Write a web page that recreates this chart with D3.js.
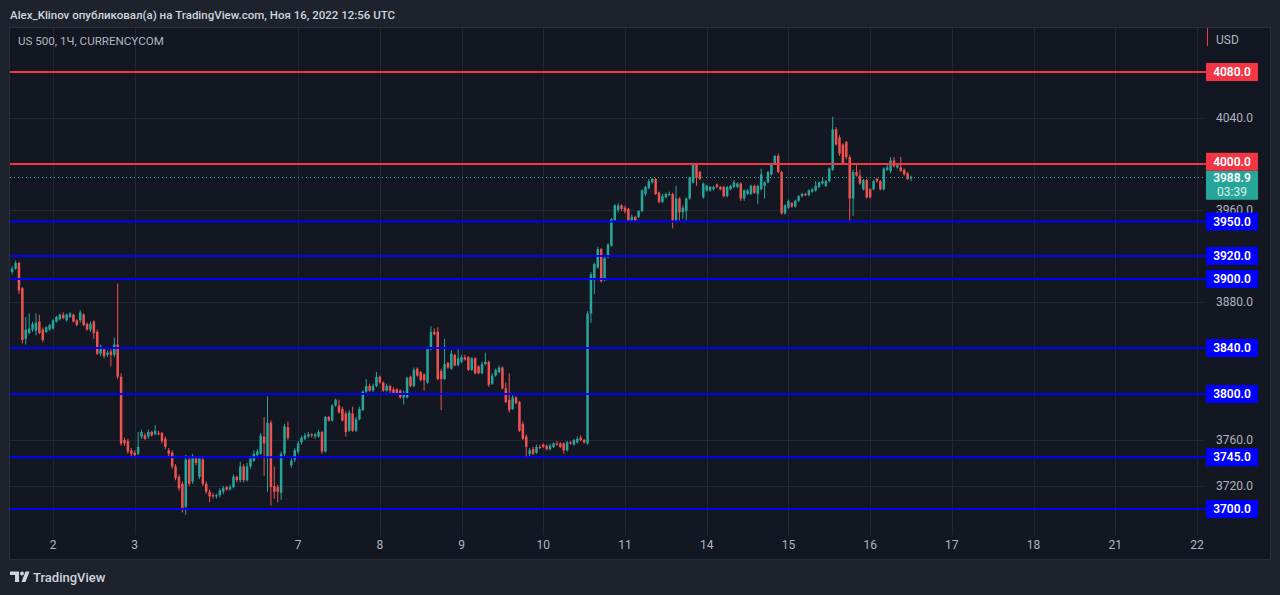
<!DOCTYPE html>
<html><head><meta charset="utf-8">
<script src="https://cdn.jsdelivr.net/npm/d3@7"></script>
<style>
html,body{margin:0;padding:0;background:#1e222d;}
svg{display:block;}
</style></head><body>
<svg id="c" width="1280" height="595"></svg>
<script>
// ---- data ----
const dayLabels = ["2","3","7","8","9","10","11","14","15","16","17","18","21","22"];
const dayStarts = [12,36,84,108,132,156,180,204,228,252,276,300,324,348]; // bar index of each day start
const priceTicks = [3720,3760,3800,3840,3880,3920,3960,4000,4040,4080];
const redLevels = [4080,4000];
const blueLevels = [3950,3920,3900,3840,3800,3745,3700];
const lastPrice = 3988.9;
const countdown = "03:39";
const headerText = "Alex_Klinov опубликовал(а) на TradingView.com, Ноя 16, 2022 12:56 UTC";
const titleText = "US 500, 1Ч, CURRENCYCOM";
const currency = "USD";
// hourly bars [open, high, low, close]
const bars = [
[3906,3911,3904,3909],[3909,3916,3908,3914],[3914,3915,3887,3890],[3892,3893,3844,3847],
[3848,3867,3843,3856],[3853,3870,3852,3857],[3856,3863,3854,3861],[3855,3870,3851,3862],
[3863,3869,3852,3853],[3856,3858,3845,3847],[3854,3859,3853,3858],[3856,3861,3855,3860],
[3857,3865,3856,3864],[3863,3868,3862,3867],[3865,3870,3864,3869],[3869,3871,3865,3866],
[3864,3870,3863,3869],[3867,3871,3866,3870],[3869,3870,3862,3863],[3864,3865,3859,3860],
[3864,3873,3862,3871],[3869,3870,3859,3860],[3861,3862,3855,3856],[3856,3863,3854,3861],
[3863,3864,3848,3853],[3854,3856,3834,3835],[3835,3843,3833,3841],[3839,3841,3831,3833],
[3834,3838,3832,3836],[3837,3839,3824,3834],[3834,3849,3832,3843],[3843,3896,3813,3815],
[3815,3818,3755,3757],[3760,3762,3755,3757],[3759,3761,3748,3750],[3751,3753,3746,3748],
[3749,3751,3746,3747],[3748,3767,3747,3754],[3763,3769,3761,3767],[3764,3766,3760,3761],
[3763,3769,3761,3767],[3767,3768,3763,3764],[3765,3773,3764,3768],[3766,3768,3764,3765],
[3766,3767,3757,3759],[3761,3763,3752,3754],[3751,3753,3746,3748],[3749,3751,3735,3737],
[3737,3739,3725,3727],[3728,3730,3716,3718],[3722,3724,3697,3699],[3702,3747,3695,3743],
[3743,3745,3720,3722],[3724,3748,3722,3745],[3744,3746,3738,3740],[3728,3746,3726,3744],
[3743,3745,3720,3722],[3722,3724,3713,3715],[3715,3717,3706,3711],[3712,3714,3709,3711],
[3711,3713,3709,3712],[3712,3718,3710,3716],[3715,3720,3713,3718],[3719,3720,3716,3717],
[3717,3721,3716,3719],[3719,3730,3718,3728],[3728,3729,3723,3725],[3725,3741,3723,3737],
[3737,3739,3723,3725],[3725,3740,3724,3737],[3737,3746,3735,3744],[3742,3751,3741,3748],
[3747,3752,3746,3750],[3748,3766,3747,3764],[3763,3780,3729,3757],[3745,3798,3715,3775],
[3775,3777,3703,3719],[3720,3737,3709,3715],[3719,3721,3706,3715],[3714,3750,3708,3748],
[3748,3774,3746,3772],[3771,3776,3760,3762],[3738,3744,3736,3742],[3743,3753,3741,3751],
[3750,3759,3748,3757],[3758,3764,3756,3762],[3761,3766,3760,3764],[3763,3767,3762,3765],
[3765,3766,3762,3764],[3763,3766,3761,3765],[3763,3769,3762,3767],
[3767,3768,3748,3750],[3750,3781,3749,3780],[3780,3781,3776,3777],[3777,3791,3776,3790],
[3790,3796,3789,3795],[3790,3795,3783,3784],[3787,3789,3776,3777],[3783,3785,3763,3767],
[3768,3786,3767,3784],[3783,3789,3767,3768],[3768,3780,3767,3778],[3778,3789,3777,3787],
[3786,3803,3785,3802],[3802,3813,3801,3807],[3807,3809,3802,3803],[3803,3809,3802,3807],
[3807,3819,3806,3815],[3815,3816,3809,3810],[3810,3811,3802,3803],[3803,3809,3802,3807],
[3807,3808,3801,3803],[3804,3806,3800,3801],[3804,3805,3799,3800],[3803,3804,3796,3797],
[3797,3803,3791,3801],[3797,3815,3796,3814],[3815,3816,3806,3807],[3807,3823,3806,3821],
[3822,3823,3815,3816],[3819,3820,3811,3812],[3817,3818,3803,3812],[3810,3841,3809,3839],
[3839,3859,3838,3854],[3854,3857,3851,3852],[3854,3858,3812,3813],[3820,3822,3786,3813],
[3813,3848,3812,3826],[3827,3828,3822,3823],[3822,3838,3821,3835],[3834,3835,3824,3825],
[3825,3839,3824,3831],[3828,3834,3827,3832],[3832,3834,3829,3830],[3832,3833,3820,3821],
[3821,3832,3820,3831],[3831,3832,3817,3818],[3824,3825,3817,3818],[3818,3828,3817,3826],
[3826,3836,3825,3828],[3828,3829,3806,3808],[3809,3818,3808,3816],[3816,3822,3815,3821],
[3819,3825,3818,3823],[3823,3824,3804,3805],[3805,3810,3792,3793],[3795,3818,3784,3786],
[3787,3799,3786,3797],[3797,3798,3791,3792],[3793,3794,3767,3768],[3774,3776,3760,3761],
[3763,3765,3745,3754],[3748,3753,3746,3751],[3752,3754,3747,3748],[3749,3756,3748,3754],
[3754,3756,3752,3753],[3756,3757,3753,3754],[3755,3756,3751,3752],[3752,3757,3751,3755],
[3754,3758,3753,3757],[3757,3759,3755,3756],[3757,3758,3753,3754],[3757,3758,3748,3751],
[3751,3759,3750,3758],[3758,3759,3756,3757],[3756,3761,3755,3760],[3758,3763,3757,3761],
[3762,3764,3759,3760],[3760,3761,3757,3758],
[3757,3872,3756,3870],[3870,3906,3862,3904],[3899,3914,3887,3913],[3910,3928,3909,3926],
[3926,3927,3897,3898],[3899,3921,3898,3918],[3919,3931,3918,3930],[3929,3953,3928,3952],
[3951,3965,3950,3964],[3960,3966,3958,3964],[3964,3965,3959,3961],[3962,3964,3957,3959],
[3961,3962,3950,3951],[3951,3956,3950,3954],[3954,3955,3950,3951],[3954,3960,3953,3959],
[3959,3978,3958,3977],[3974,3981,3972,3980],[3979,3987,3978,3985],[3984,3988,3983,3987],
[3987,3988,3973,3974],[3975,3976,3966,3967],[3967,3974,3966,3972],[3971,3975,3970,3974],
[3973,3976,3972,3974],[3974,3975,3944,3951],[3951,3981,3950,3970],[3970,3971,3950,3958],
[3958,3964,3952,3962],[3959,3971,3951,3970],[3970,3989,3969,3988],[3984,4001,3983,4000],
[4000,4001,3981,3988],[3993,3994,3986,3987],[3971,3984,3970,3983],
[3977,3982,3976,3981],[3977,3981,3976,3980],[3978,3981,3977,3980],[3982,3983,3979,3980],
[3980,3981,3977,3978],[3980,3981,3971,3972],[3972,3981,3971,3980],[3978,3982,3977,3981],
[3980,3986,3979,3984],[3980,3984,3979,3983],[3983,3984,3968,3970],[3970,3978,3968,3977],
[3974,3978,3973,3977],[3974,3982,3973,3981],[3981,3982,3974,3975],[3974,3982,3965,3981],
[3978,3996,3977,3991],[3981,3985,3970,3984],[3984,3994,3983,3993],[3991,4001,3990,4000],
[4000,4008,3999,4007],[4007,4009,3992,3993],[3993,3994,3956,3957],[3957,3965,3956,3964],
[3962,3969,3961,3968],[3966,3967,3962,3963],[3963,3969,3962,3968],[3968,3973,3967,3972],
[3972,3975,3971,3974],[3974,3975,3972,3973],[3973,3978,3972,3977],[3976,3979,3975,3978],
[3977,3985,3976,3981],[3980,3985,3979,3984],[3983,3988,3982,3985],[3981,3986,3980,3985],
[3985,3997,3984,3996],
[3995,4041,3994,4030],[4030,4032,4016,4017],[4023,4025,4007,4009],[4017,4018,4000,4001],
[4019,4020,4004,4006],[4006,4008,3951,3970],[3970,3995,3955,3993],[3993,3999,3989,3990],
[3990,3995,3982,3983],[3978,3987,3977,3986],[3986,3987,3970,3971],[3978,3979,3970,3971],
[3978,3986,3977,3985],[3987,3988,3984,3985],[3985,3986,3977,3978],[3978,3997,3977,3996],
[3995,3999,3994,3997],[3994,4006,3992,4003],[4003,4006,3997,3998],[3997,4000,3996,3999],
[3997,4006,3993,3994],[3995,3996,3990,3991],[3992,3993,3986,3987],[3987.5,3990,3985,3988.9]
];

// ---- layout ----
const svg = d3.select("#c");
const font = "Roboto, 'Noto Sans', sans-serif";
const panel = {x0:9.5, y0:27.5, x1:1270.5, y1:559.5};
const plot = {x0:10, x1:1203, y0:28, y1:535};
const labX = 1206, labW = 52, labH = 18;

const x = d3.scaleLinear().domain([dayStarts[0], dayStarts[dayStarts.length-1]]).range([53, 1197]);
const y = d3.scaleLinear().domain([3700, 4080]).range([509, 72]);

const UP = "#26a69a", DOWN = "#ef5350", RED = "#f23645", BLUE = "#0000ff", TEAL = "#26a69a";

svg.append("rect").attr("width",1280).attr("height",595).attr("fill","#1e222d");
svg.append("rect").attr("x",panel.x0).attr("y",panel.y0)
  .attr("width",panel.x1-panel.x0).attr("height",panel.y1-panel.y0)
  .attr("fill","#131722").attr("stroke","#2a2e39").attr("stroke-width",1);

// header
svg.append("text").attr("x",10).attr("y",19).text(headerText)
  .attr("fill","#d1d4dc").attr("font-family",font).attr("font-size",11.5).attr("font-weight",500);

// grid
const grid = svg.append("g");
grid.selectAll("line.v").data(dayStarts).join("line")
  .attr("x1",d=>Math.round(x(d))+0.5).attr("x2",d=>Math.round(x(d))+0.5)
  .attr("y1",plot.y0).attr("y2",plot.y1).attr("stroke","#232733").attr("stroke-width",1);
grid.selectAll("line.h").data(priceTicks).join("line")
  .attr("x1",plot.x0).attr("x2",plot.x1)
  .attr("y1",d=>Math.round(y(d))+0.5).attr("y2",d=>Math.round(y(d))+0.5)
  .attr("stroke","#232733").attr("stroke-width",1);

// title
svg.append("text").attr("x",18).attr("y",45).text(titleText)
  .attr("fill","#b2b5be").attr("font-family",font).attr("font-size",11.6);

// y tick labels (those under a level label are hidden in the original)
const levelVals = redLevels.concat(blueLevels);
svg.append("g").selectAll("text").data(priceTicks.filter(t=>!levelVals.includes(t))).join("text")
  .attr("x",1216).attr("y",d=>y(d)).attr("dy","0.35em")
  .text(d=>d.toFixed(1)).attr("fill","#b2b5be").attr("font-family",font).attr("font-size",12);

svg.append("text").attr("x",1216).attr("y",44).text(currency)
  .attr("fill","#b2b5be").attr("font-family",font).attr("font-size",12);
svg.append("line").attr("x1",1207.5).attr("x2",1207.5).attr("y1",28).attr("y2",46)
  .attr("stroke",RED).attr("stroke-width",1);

// x labels
svg.append("g").selectAll("text").data(dayLabels).join("text")
  .attr("x",(d,i)=>x(dayStarts[i])).attr("y",549).attr("text-anchor","middle")
  .text(d=>d).attr("fill","#b2b5be").attr("font-family",font).attr("font-size",12);

// candles
const cg = svg.append("g");
bars.forEach((b,i)=>{
  const [o,h,l,c] = b;
  const col = c >= o ? UP : DOWN;
  const cx = x(i);
  cg.append("line").attr("x1",cx).attr("x2",cx).attr("y1",y(h)).attr("y2",y(l))
    .attr("stroke",col).attr("stroke-width",1);
  const top = y(Math.max(o,c)), bot = y(Math.min(o,c));
  cg.append("rect").attr("x",cx-1.25).attr("width",2.5)
    .attr("y",top).attr("height",Math.max(1,bot-top)).attr("fill",col);
});

// current price dotted line
svg.append("line").attr("x1",plot.x0).attr("x2",labX)
  .attr("y1",Math.round(y(lastPrice))+0.5).attr("y2",Math.round(y(lastPrice))+0.5)
  .attr("stroke",TEAL).attr("stroke-width",1).attr("stroke-dasharray","1 3");

// level lines
const levels = redLevels.map(v=>({v,col:RED,w:2})).concat(blueLevels.map(v=>({v,col:BLUE,w:2})));
svg.append("g").selectAll("line").data(levels).join("line")
  .attr("x1",plot.x0).attr("x2",labX).attr("y1",d=>y(d.v)).attr("y2",d=>y(d.v))
  .attr("stroke",d=>d.col).attr("stroke-width",d=>d.w);

// current price label box
const lpTop = y(lastPrice) - 6, lpH = 29;
svg.append("rect").attr("x",labX).attr("y",lpTop).attr("width",labW).attr("height",lpH).attr("fill",TEAL);
svg.append("text").attr("x",labX+labW/2).attr("y",y(lastPrice)+1.5).attr("dy","0.35em")
  .attr("text-anchor","middle").text(lastPrice.toFixed(1)).attr("fill","#fff")
  .attr("font-family",font).attr("font-size",12).attr("font-weight",600);
svg.append("text").attr("x",labX+labW/2).attr("y",y(lastPrice)+15).attr("dy","0.35em")
  .attr("text-anchor","middle").text(countdown).attr("fill","#d8f0ec")
  .attr("font-family",font).attr("font-size",12);

// level labels with collision avoidance against the price label
const lg = svg.append("g");
levels.forEach(d=>{
  let c = y(d.v);
  let t = c - labH/2, b = c + labH/2;
  if (b > lpTop && t < lpTop + lpH) {
    if (c < y(lastPrice)) { b = lpTop; t = b - labH; } else { t = lpTop + lpH; b = t + labH; }
  }
  lg.append("rect").attr("x",labX).attr("y",t).attr("width",labW).attr("height",labH).attr("fill",d.col);
  lg.append("text").attr("x",labX+labW/2).attr("y",(t+b)/2).attr("dy","0.35em")
    .attr("text-anchor","middle").text(d.v.toFixed(1)).attr("fill","#fff")
    .attr("font-family",font).attr("font-size",12).attr("font-weight",600);
});

// logo
const logo = svg.append("g").attr("fill","#d1d4dc");
logo.append("path").attr("d","M10,571.5 H19 V582 H15 V575 H10 Z");
logo.append("circle").attr("cx",22).attr("cy",573.5).attr("r",2);
logo.append("path").attr("d","M25.5,571.5 H29.5 L25.5,582 H21.5 Z");
svg.append("text").attr("x",33).attr("y",582).text("TradingView")
  .attr("fill","#d1d4dc").attr("font-family",font).attr("font-size",13).attr("font-weight",500);
</script>
</body></html>
